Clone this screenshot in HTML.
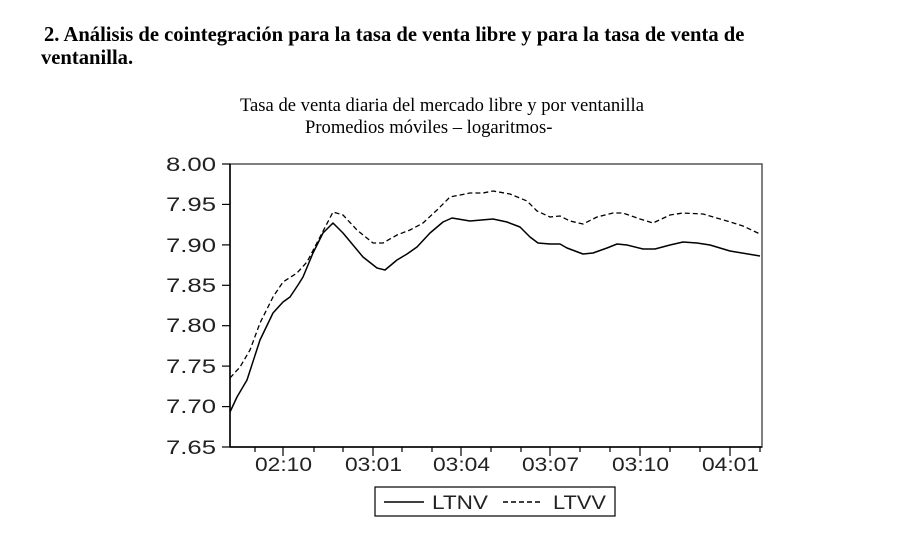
<!DOCTYPE html>
<html><head><meta charset="utf-8"><style>
body{margin:0;background:#fff;width:924px;height:552px;overflow:hidden}
</style></head><body>
<svg width="924" height="552" xmlns="http://www.w3.org/2000/svg">
<g font-family="Liberation Serif, serif" font-weight="bold" font-size="20.6" fill="#000">
<text x="44" y="41">2. Análisis de cointegración para la tasa de venta libre y para la tasa de venta de</text>
<text x="41" y="64">ventanilla.</text>
</g>
<g font-family="Liberation Serif, serif" font-size="18.6" fill="#000">
<text x="240" y="111">Tasa de venta diaria del mercado libre y por ventanilla</text>
<text x="305" y="133">Promedios móviles – logaritmos-</text>
</g>
<rect x="230" y="164" width="532" height="283" fill="none" stroke="#555" stroke-width="1.5"/>
<line x1="230" y1="164" x2="230" y2="447" stroke="#000" stroke-width="1.5"/>
<line x1="230" y1="447" x2="762" y2="447" stroke="#000" stroke-width="1.5"/>
<g stroke="#000" stroke-width="1.2">
<line x1="222" y1="164" x2="230" y2="164"/><line x1="222" y1="204.4" x2="230" y2="204.4"/>
<line x1="222" y1="244.9" x2="230" y2="244.9"/><line x1="222" y1="285.3" x2="230" y2="285.3"/>
<line x1="222" y1="325.7" x2="230" y2="325.7"/><line x1="222" y1="366.1" x2="230" y2="366.1"/>
<line x1="222" y1="406.6" x2="230" y2="406.6"/><line x1="222" y1="447" x2="230" y2="447"/>
<line x1="255" y1="447" x2="255" y2="452"/><line x1="283" y1="447" x2="283" y2="456"/>
<line x1="314" y1="447" x2="314" y2="452"/><line x1="343" y1="447" x2="343" y2="452"/>
<line x1="373" y1="447" x2="373" y2="456"/><line x1="402" y1="447" x2="402" y2="452"/>
<line x1="432" y1="447" x2="432" y2="452"/><line x1="461" y1="447" x2="461" y2="456"/>
<line x1="491" y1="447" x2="491" y2="452"/><line x1="521" y1="447" x2="521" y2="452"/>
<line x1="550" y1="447" x2="550" y2="456"/><line x1="580" y1="447" x2="580" y2="452"/>
<line x1="610" y1="447" x2="610" y2="452"/><line x1="640" y1="447" x2="640" y2="456"/>
<line x1="670" y1="447" x2="670" y2="452"/><line x1="700" y1="447" x2="700" y2="452"/>
<line x1="730" y1="447" x2="730" y2="456"/><line x1="760" y1="447" x2="760" y2="452"/>
</g>
<g font-family="Liberation Sans, sans-serif" font-size="19" fill="#222" lengthAdjust="spacingAndGlyphs">
<text x="166" y="171" textLength="50" lengthAdjust="spacingAndGlyphs">8.00</text>
<text x="166" y="211" textLength="50" lengthAdjust="spacingAndGlyphs">7.95</text>
<text x="166" y="252" textLength="50" lengthAdjust="spacingAndGlyphs">7.90</text>
<text x="166" y="292" textLength="50" lengthAdjust="spacingAndGlyphs">7.85</text>
<text x="166" y="332" textLength="50" lengthAdjust="spacingAndGlyphs">7.80</text>
<text x="166" y="373" textLength="50" lengthAdjust="spacingAndGlyphs">7.75</text>
<text x="166" y="413" textLength="50" lengthAdjust="spacingAndGlyphs">7.70</text>
<text x="166" y="454" textLength="50" lengthAdjust="spacingAndGlyphs">7.65</text>
<text x="255" y="471" textLength="57" lengthAdjust="spacingAndGlyphs">02:10</text>
<text x="345" y="471" textLength="57" lengthAdjust="spacingAndGlyphs">03:01</text>
<text x="433" y="471" textLength="57" lengthAdjust="spacingAndGlyphs">03:04</text>
<text x="522" y="471" textLength="57" lengthAdjust="spacingAndGlyphs">03:07</text>
<text x="612" y="471" textLength="57" lengthAdjust="spacingAndGlyphs">03:10</text>
<text x="702" y="471" textLength="57" lengthAdjust="spacingAndGlyphs">04:01</text>
<text x="432" y="509" textLength="56" lengthAdjust="spacingAndGlyphs">LTNV</text>
<text x="553" y="509" textLength="53" lengthAdjust="spacingAndGlyphs">LTVV</text>
</g>
<polyline fill="none" stroke="#000" stroke-width="1.5" stroke-linejoin="round" points="230,412 237,397 247,380 260,340 273,313 283,302 290,297 298,285 303,277 313,253 323,233 333,223 343,233 363,257 377,268 385,270 397,260 407,254 417,247 430,233 443,222 452,218 470,221 493,219 507,222 520,227 530,237 538,243 550,244 560,244 567,248 583,254 593,253 607,248 617,244 627,245 643,249 655,249 670,245 683,242 697,243 710,245 730,251 760,256"/>
<polyline fill="none" stroke="#000" stroke-width="1.3" stroke-dasharray="5,3" stroke-linejoin="round" points="230,378 240,367 250,350 260,323 273,297 283,282 297,273 307,262 320,237 333,212 343,215 357,230 373,243 383,243 397,235 410,230 423,223 437,210 450,197 470,193 483,193 493,191 510,194 527,201 537,211 550,217 560,216 570,221 583,224 597,217 613,213 623,213 640,219 653,223 670,215 683,213 703,214 727,221 743,226 760,234"/>
<rect x="375" y="487" width="240" height="29" fill="none" stroke="#000" stroke-width="1.2"/>
<line x1="384" y1="502" x2="424" y2="502" stroke="#000" stroke-width="1.5"/>
<line x1="503" y1="502" x2="543" y2="502" stroke="#000" stroke-width="1.5" stroke-dasharray="5,3"/>
</svg>
</body></html>
